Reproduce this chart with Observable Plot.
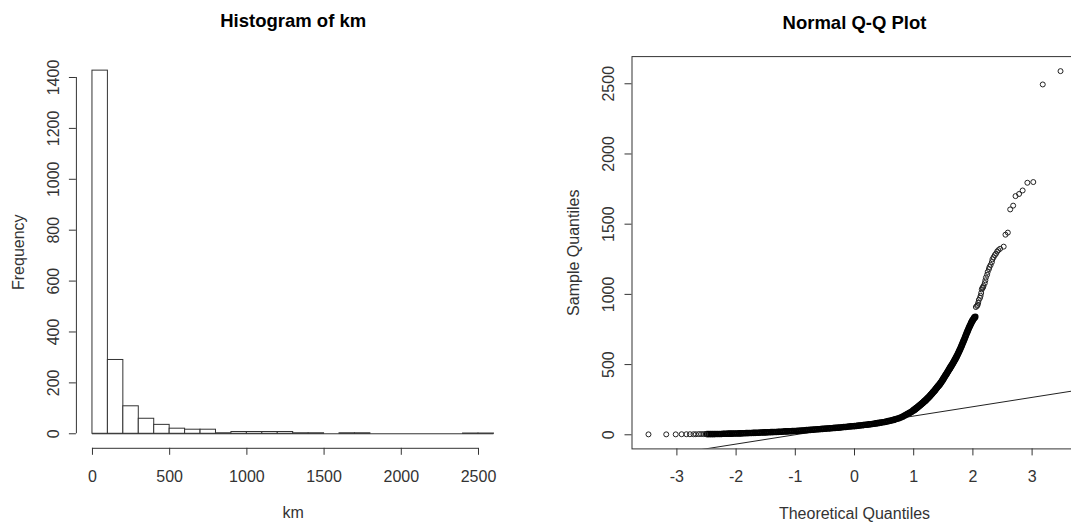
<!DOCTYPE html>
<html>
<head>
<meta charset="utf-8">
<script src="https://cdn.jsdelivr.net/npm/d3@7"></script>
<script src="https://cdn.jsdelivr.net/npm/@observablehq/plot@0.6"></script>
<style>
  html, body { margin: 0; padding: 0; background: #fff; overflow: hidden; }
  #wrap { position: relative; width: 1071px; height: 522px; overflow: hidden; background: #fff; }
  #left { position: absolute; left: 0; top: 0; width: 535px; height: 522px; }
  #right { position: absolute; left: 535px; top: 0; width: 545px; height: 522px; }
  #wrap svg { max-width: none !important; display: block; }
</style>
</head>
<body>
<div id="wrap"><div id="left"></div><div id="right"></div></div>
<script>
// ---------- Histogram data ----------
const binEdgesKm = [0,100,200,300,400,500,600,700,800,900,1000,1100,1200,1300,1400,1500,1600,1700,1800,1900,2000,2100,2200,2300,2400,2500,2600];
const kmCounts   = [1427,290,108,59,35,20,16,16,2,7,7,7,7,2,2,0,2,2,0,0,0,0,0,0,1,1];
const kmTicks    = [0,500,1000,1500,2000,2500];
const freqTicks  = [0,200,400,600,800,1000,1200,1400];

// ---------- Q-Q data ----------
// lower tail
const tailQ = [-3.48,-3.18,-3.02,-2.92,-2.84,-2.78,-2.72,-2.68,-2.63,-2.59,-2.55,-2.52];
const tailS = [3,3,3,4,4,4,4,4,5,5,5,5];
// flat body
const bodyQ = [
  -2.49,-2.46,-2.43,-2.40,-2.37,-2.34,-2.31,-2.28,-2.25,-2.22,-2.19,-2.16,-2.13,-2.10,-2.07,-2.04,-2.01,-1.98,-1.95,-1.92,
  -1.89,-1.86,-1.83,-1.80,-1.77,-1.74,-1.71,-1.68,-1.65,-1.62,-1.59,-1.56,-1.53,-1.50,-1.47,-1.44,-1.41,-1.38,-1.35,-1.32,
  -1.29,-1.26,-1.23,-1.20,-1.17,-1.14,-1.11,-1.08,-1.05,-1.02,-0.99,-0.96,-0.93,-0.90,-0.87,-0.84,-0.81,-0.78,-0.75,-0.72,
  -0.69,-0.66,-0.63,-0.60,-0.57,-0.54,-0.51,-0.48,-0.45,-0.42,-0.39,-0.36,-0.33,-0.30,-0.27,-0.24,-0.21,-0.18,-0.15,-0.12,
  -0.09,-0.06,-0.03,0.00,0.03,0.06,0.09,0.12,0.15,0.18,0.21,0.24,0.27,0.30,0.33,0.36,0.39,0.42,0.45,0.48,
  0.51,0.54,0.57,0.60,0.63,0.66,0.69,0.72,0.75,0.78,0.81,0.84,0.87,0.90,0.93,0.96,0.99
];
const bodyS = [
  5,5,5,5,5,6,6,6,6,7,7,7,8,8,8,9,9,9,10,10,
  11,11,12,12,13,13,14,14,15,15,16,16,17,17,18,18,19,19,20,20,
  21,22,22,23,24,24,25,25,26,27,27,28,29,30,31,32,33,34,35,36,
  37,38,39,40,41,42,43,44,45,46,47,48,49,50,51,52,54,55,56,57,
  59,60,61,62,63,65,66,68,69,71,72,74,75,77,79,81,83,85,87,89,
  91,94,97,100,103,106,110,114,118,123,129,135,142,149,156,163,172
];
// steep upper part
const riseQ = [
  1.00,1.01,1.02,1.03,1.04,1.05,1.06,1.07,1.08,1.09,1.10,1.11,1.12,1.13,1.14,1.15,1.16,1.17,1.18,1.19,
  1.20,1.21,1.22,1.23,1.24,1.25,1.26,1.27,1.28,1.29,1.30,1.31,1.32,1.33,1.34,1.35,1.36,1.37,1.38,1.39,
  1.40,1.41,1.42,1.43,1.44,1.45,1.46,1.47,1.48,1.49,1.50,1.51,1.52,1.53,1.54,1.55,1.56,1.57,1.58,1.59,
  1.60,1.61,1.62,1.63,1.64,1.65,1.66,1.67,1.68,1.69,1.70,1.71,1.72,1.73,1.74,1.75,1.76,1.77,1.78,1.79,
  1.80,1.81,1.82,1.83,1.84,1.85,1.86,1.87,1.88,1.89,1.90,1.91,1.92,1.93,1.94,1.95,1.96,1.97,1.98,1.99,
  2.00,2.01,2.02,2.03,2.04
];
const riseS = [
  175,178,181,185,188,191,194,198,201,205,208,212,215,219,223,226,230,234,238,241,
  245,249,253,258,262,266,271,275,280,285,289,294,299,304,308,313,318,324,329,335,
  340,345,350,355,360,366,372,378,385,391,398,405,412,418,425,431,438,445,452,459,
  466,473,480,487,494,501,508,515,522,530,537,545,553,561,570,579,588,597,606,615,
  625,635,645,655,665,675,686,696,707,717,728,738,748,758,768,777,786,795,803,811,
  818,825,832,836,840
];
// sparse upper tail
const upperQ = [2.05,2.07,2.08,2.09,2.10,2.12,2.13,2.14,2.15,2.16,2.17,2.18,2.20,2.21,2.22,2.24,2.25,2.27,2.28,2.30,
                2.32,2.33,2.35,2.37,2.39,2.41,2.43,2.46,
                2.52,2.55,2.59,2.63,2.68,2.72,2.78,2.84,2.92,3.02,3.18,3.48];
const upperS = [910,918,925,940,960,975,990,1010,1035,1045,1050,1060,1080,1100,1120,1140,1160,1180,1195,1210,
                1230,1250,1265,1280,1290,1305,1315,1325,
                1340,1425,1440,1605,1632,1700,1715,1740,1795,1800,2495,2590];

const qTicks  = [-3,-2,-1,0,1,2,3];
const sqTicks = [0,500,1000,1500,2000,2500];
const qqLineIntercept = 67;
const qqLineSlope = 66.5;

const theoretical = [...tailQ, ...bodyQ, ...riseQ, ...upperQ];
const sample      = [...tailS, ...bodyS, ...riseS, ...upperS];
const denseQ = [...bodyQ, ...riseQ], denseS = [...bodyS, ...riseS];
const sparseQ = [...tailQ, ...upperQ], sparseS = [...tailS, ...upperS];

const FONT = "'Liberation Sans', Arial, Helvetica, sans-serif";
const INK = "#333";

// ---------- Left panel: histogram ----------
const bins = kmCounts.map((c, i) => ({x1: binEdgesKm[i], x2: binEdgesKm[i + 1], count: c}));
const xPad = (binEdgesKm.at(-1) - binEdgesKm[0]) * 0.04;
const yPadH = d3.max(kmCounts) * 0.04;

const left = Plot.plot({
  width: 535, height: 522,
  marginLeft: 75.9, marginRight: 25.5, marginTop: 55.6, marginBottom: 74.2,
  x: {domain: [binEdgesKm[0] - xPad, binEdgesKm.at(-1) + xPad]},
  y: {domain: [-yPadH, d3.max(kmCounts) + yPadH]},
  style: {fontFamily: FONT, background: "white", overflow: "visible"},
  marks: [
    Plot.rectY(bins, {x1: "x1", x2: "x2", y1: 0, y2: "count", fill: "white", stroke: INK, strokeWidth: 1, inset: 0}),
    Plot.ruleY([0], {x1: binEdgesKm[0], x2: binEdgesKm.at(-1), stroke: INK}),
    // y axis
    Plot.ruleX([binEdgesKm[0] - xPad], {y1: freqTicks[0], y2: freqTicks.at(-1), stroke: INK}),
    Plot.axisY({ticks: freqTicks, tickSize: 7, tickFormat: () => "", label: null, anchor: "left", stroke: INK}),
    Plot.text(freqTicks, {y: d => d, frameAnchor: "left", dx: -23, rotate: -90, text: d => String(d), fontSize: 16, fill: INK, textAnchor: "middle", lineAnchor: "middle"}),
    // x axis
    Plot.ruleY([-yPadH], {x1: kmTicks[0], x2: kmTicks.at(-1), stroke: INK}),
    Plot.axisX({ticks: kmTicks, tickSize: 7, tickFormat: () => "", label: null, anchor: "bottom", stroke: INK}),
    Plot.text(kmTicks, {x: d => d, frameAnchor: "bottom", dy: 28.5, text: d => String(d), fontSize: 16, fill: INK, lineAnchor: "middle"}),
    // titles
    Plot.text(["Histogram of km"], {frameAnchor: "top", dy: -35, fontSize: 18.5, fontWeight: "bold", fill: "#000", lineAnchor: "middle"}),
    Plot.text(["km"], {frameAnchor: "bottom", dy: 65, fontSize: 16, fill: INK, lineAnchor: "middle"}),
    Plot.text(["Frequency"], {frameAnchor: "left", dx: -58, rotate: -90, fontSize: 16, fill: INK, textAnchor: "middle", lineAnchor: "middle"})
  ]
});
document.getElementById("left").appendChild(left);

// ---------- Right panel: Normal Q-Q plot ----------
const qExt = d3.max(theoretical.map(Math.abs));
const qPad = 2 * qExt * 0.04;
const sMin = d3.min(sample), sMax = d3.max(sample);
const sPad = (sMax - sMin) * 0.04;
const qDomain = [-qExt - qPad, qExt + qPad];
const lineData = qDomain.map(q => ({q, s: qqLineIntercept + qqLineSlope * q}));

const right = Plot.plot({
  width: 545, height: 522,
  marginLeft: 96.5, marginRight: 3.5, marginTop: 56.1, marginBottom: 73.6,
  x: {domain: qDomain},
  y: {domain: [sMin - sPad, sMax + sPad]},
  style: {fontFamily: FONT, background: "white", overflow: "visible"},
  marks: [
    Plot.frame({stroke: INK, strokeWidth: 1}),
    Plot.line(lineData, {x: "q", y: "s", stroke: "#222", strokeWidth: 1, clip: true}),
    // dense stretch: overlapping circles form a solid band
    Plot.dot(denseQ, {x: denseQ, y: denseS, r: 2.5, stroke: "#000", strokeWidth: 1.6, fill: "none"}),
    // isolated circles
    Plot.dot(sparseQ, {x: sparseQ, y: sparseS, r: 2.5, stroke: "#222", strokeWidth: 1, fill: "none"}),
    Plot.axisY({ticks: sqTicks, tickSize: 7, tickFormat: () => "", label: null, anchor: "left", stroke: INK}),
    Plot.text(sqTicks, {y: d => d, frameAnchor: "left", dx: -23, rotate: -90, text: d => String(d), fontSize: 16, fill: INK, textAnchor: "middle", lineAnchor: "middle"}),
    Plot.axisX({ticks: qTicks, tickSize: 7, tickFormat: () => "", label: null, anchor: "bottom", stroke: INK}),
    Plot.text(qTicks, {x: d => d, frameAnchor: "bottom", dy: 28, text: d => String(d), fontSize: 16, fill: INK, lineAnchor: "middle"}),
    Plot.text(["Normal Q-Q Plot"], {x: 0, frameAnchor: "top", dy: -34, fontSize: 18.5, fontWeight: "bold", fill: "#000", lineAnchor: "middle"}),
    Plot.text(["Theoretical Quantiles"], {x: 0, frameAnchor: "bottom", dy: 65, fontSize: 16, fill: INK, lineAnchor: "middle"}),
    Plot.text(["Sample Quantiles"], {frameAnchor: "left", dx: -58, rotate: -90, fontSize: 16, fill: INK, textAnchor: "middle", lineAnchor: "middle"})
  ]
});
document.getElementById("right").appendChild(right);
</script>
</body>
</html>
